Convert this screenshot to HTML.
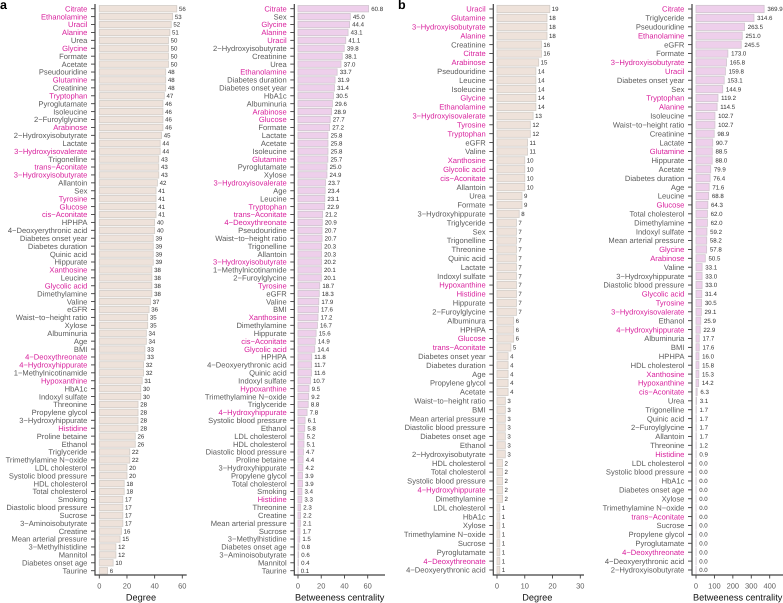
<!DOCTYPE html>
<html lang="en">
<head>
<meta charset="utf-8">
<title>Network centrality of metabolites and clinical variables</title>
<style>
html,body{margin:0;padding:0;background:#fff;width:783px;height:603px;overflow:hidden}
svg{display:block;font-family:"Liberation Sans",Arial,sans-serif;text-rendering:geometricPrecision}
</style>
</head>
<body>
<svg id="chart" width="783" height="603" viewBox="0 0 783 603" xmlns="http://www.w3.org/2000/svg">
  <text x="0" y="9" font-size="12.5" font-weight="bold" fill="#000">a</text>
  <text x="398" y="9" font-size="12.5" font-weight="bold" fill="#000">b</text>
</svg>
<script>
const highlighted = ["Citrate","Ethanolamine","Uracil","Alanine","Glycine","Glutamine","Tryptophan","Arabinose","3−Hydroxyisovalerate","trans−Aconitate","3−Hydroxyisobutyrate","Tyrosine","Glucose","cis−Aconitate","Xanthosine","Glycolic acid","4−Deoxythreonate","4−Hydroxyhippurate","Hypoxanthine","Histidine"];

const aDegreeNames = ["Citrate","Ethanolamine","Uracil","Alanine","Urea","Glycine","Formate","Acetate","Pseudouridine","Glutamine","Creatinine","Tryptophan","Pyroglutamate","Isoleucine","2−Furoylglycine","Arabinose","2−Hydroxyisobutyrate","Lactate","3−Hydroxyisovalerate","Trigonelline","trans−Aconitate","3−Hydroxyisobutyrate","Allantoin","Sex","Tyrosine","Glucose","cis−Aconitate","HPHPA","4−Deoxyerythronic acid","Diabetes onset year","Diabetes duration","Quinic acid","Hippurate","Xanthosine","Leucine","Glycolic acid","Dimethylamine","Valine","eGFR","Waist−to−height ratio","Xylose","Albuminuria","Age","BMI","4−Deoxythreonate","4−Hydroxyhippurate","1−Methylnicotinamide","Hypoxanthine","HbA1c","Indoxyl sulfate","Threonine","Propylene glycol","3−Hydroxyhippurate","Histidine","Proline betaine","Ethanol","Triglyceride","Trimethylamine N−oxide","LDL cholesterol","Systolic blood pressure","HDL cholesterol","Total cholesterol","Smoking","Diastolic blood pressure","Sucrose","3−Aminoisobutyrate","Creatine","Mean arterial pressure","3−Methylhistidine","Mannitol","Diabetes onset age","Taurine"];
const aDegreeValues = [56,53,52,51,50,50,50,50,48,48,48,47,46,46,46,46,45,44,44,43,43,43,42,41,41,41,41,40,40,39,39,39,39,38,38,38,38,37,36,35,35,34,34,33,33,32,32,31,30,30,28,28,28,28,26,26,22,22,20,20,18,18,17,17,17,17,16,15,12,12,10,6];
const aDegreeTicks = [0,20,40,60];

const aBetweenNames = ["Citrate","Sex","Glycine","Alanine","Uracil","2−Hydroxyisobutyrate","Creatinine","Urea","Ethanolamine","Diabetes duration","Diabetes onset year","HbA1c","Albuminuria","Arabinose","Glucose","Formate","Lactate","Acetate","Isoleucine","Glutamine","Pyroglutamate","Xylose","3−Hydroxyisovalerate","Age","Leucine","Tryptophan","trans−Aconitate","4−Deoxythreonate","Pseudouridine","Waist−to−height ratio","Trigonelline","Allantoin","3−Hydroxyisobutyrate","1−Methylnicotinamide","2−Furoylglycine","Tyrosine","eGFR","Valine","BMI","Xanthosine","Dimethylamine","Hippurate","cis−Aconitate","Glycolic acid","HPHPA","4−Deoxyerythronic acid","Quinic acid","Indoxyl sulfate","Hypoxanthine","Trimethylamine N−oxide","Triglyceride","4−Hydroxyhippurate","Systolic blood pressure","Ethanol","LDL cholesterol","HDL cholesterol","Diastolic blood pressure","Proline betaine","3−Hydroxyhippurate","Propylene glycol","Total cholesterol","Smoking","Histidine","Threonine","Creatine","Mean arterial pressure","Sucrose","3−Methylhistidine","Diabetes onset age","3−Aminoisobutyrate","Mannitol","Taurine"];
const aBetweenValues = [60.8,45.0,44.4,43.1,41.1,39.8,38.1,37.0,33.7,31.9,31.4,30.5,29.6,28.9,27.7,27.2,25.8,25.8,25.8,25.7,25.0,24.9,23.7,23.4,23.1,22.9,21.2,20.9,20.7,20.7,20.3,20.3,20.2,20.1,20.1,18.7,18.3,17.9,17.6,17.2,16.7,15.6,14.9,14.4,11.8,11.7,11.6,10.7,9.5,9.2,8.8,7.8,6.1,5.8,5.2,5.1,4.7,4.4,4.2,3.9,3.9,3.4,3.3,2.3,2.2,2.1,1.7,1.5,0.8,0.6,0.4,0.1];
const aBetweenTicks = [0,20,40,60];

const bDegreeNames = ["Uracil","Glutamine","3−Hydroxyisobutyrate","Alanine","Creatinine","Citrate","Arabinose","Pseudouridine","Leucine","Isoleucine","Glycine","Ethanolamine","3−Hydroxyisovalerate","Tyrosine","Tryptophan","eGFR","Valine","Xanthosine","Glycolic acid","cis−Aconitate","Allantoin","Urea","Formate","3−Hydroxyhippurate","Triglyceride","Sex","Trigonelline","Threonine","Quinic acid","Lactate","Indoxyl sulfate","Hypoxanthine","Histidine","Hippurate","2−Furoylglycine","Albuminura","HPHPA","Glucose","trans−Aconitate","Diabetes onset year","Diabetes duration","Age","Propylene glycol","Acetate","Waist−to−height ratio","BMI","Mean arterial pressure","Diastolic blood pressure","Diabetes onset age","Ethanol","2−Hydroxyisobutyrate","HDL cholesterol","Total cholesterol","Systolic blood pressure","4−Hydroxyhippurate","Dimethylamine","LDL cholesterol","HbA1c","Xylose","Trimethylamine N−oxide","Sucrose","Pyroglutamate","4−Deoxythreonate","4−Deoxyerythronic acid"];
const bDegreeValues = [19,18,18,18,16,16,15,14,14,14,14,14,13,12,12,11,11,10,10,10,10,9,9,8,7,7,7,7,7,7,7,7,7,7,7,6,6,6,5,4,4,4,4,4,3,3,3,3,3,3,3,2,2,2,2,2,1,1,1,1,1,1,1,1];
const bDegreeTicks = [0,10,20,30];

const bBetweenNames = ["Citrate","Triglyceride","Pseudouridine","Ethanolamine","eGFR","Formate","3−Hydroxyisobutyrate","Uracil","Diabetes onset year","Sex","Tryptophan","Alanine","Isoleucine","Waist−to−height ratio","Creatinine","Lactate","Glutamine","Hippurate","Acetate","Diabetes duration","Age","Leucine","Glucose","Total cholesterol","Dimethylamine","Indoxyl sulfate","Mean arterial pressure","Glycine","Arabinose","Valine","3−Hydroxyhippurate","Diastolic blood pressure","Glycolic acid","Tyrosine","3−Hydroxyisovalerate","Ethanol","4−Hydroxyhippurate","Albuminuria","BMI","HPHPA","HDL cholesterol","Xanthosine","Hypoxanthine","cis−Aconitate","Urea","Trigonelline","Quinic acid","2−Furoylglycine","Allantoin","Threonine","Histidine","LDL cholesterol","Systolic blood pressure","HbA1c","Diabetes onset age","Xylose","Trimethylamine N−oxide","trans−Aconitate","Sucrose","Propylene glycol","Pyroglutamate","4−Deoxythreonate","4−Deoxyerythronic acid","2−Hydroxyisobutyrate"];
const bBetweenValues = [369.9,314.6,263.5,251.0,245.5,173.0,165.8,159.8,153.1,144.9,119.2,114.5,102.7,102.7,98.9,90.7,88.5,88.0,79.9,76.4,71.6,68.8,64.3,62.0,62.0,59.2,58.2,57.8,50.5,33.1,33.0,33.0,31.4,30.5,29.1,25.9,22.9,17.7,17.6,16.0,15.8,15.3,14.2,6.3,3.1,1.7,1.7,1.7,1.7,1.2,0.9,0,0,0,0,0,0,0,0,0,0,0,0,0];
const bBetweenTicks = [0,100,200,300,400];

const SVG_NS = "http://www.w3.org/2000/svg";
const root = document.getElementById("chart");
const PINK = "#d81f9c";
const GREY = "#5c5c5c";
const AXIS = "#404040";

function linearAxis(domainMax, pxStart, pxEnd) {
  return v => pxStart + (v / domainMax) * (pxEnd - pxStart);
}
function rowAxis(count, firstY, lastY) {
  return i => firstY + i * (lastY - firstY) / (count - 1);
}
function node(tag, attrs, parent) {
  const el = document.createElementNS(SVG_NS, tag);
  for (const k in attrs) el.setAttribute(k, attrs[k]);
  parent.appendChild(el);
  return el;
}

function drawPanel(opts) {
  const xScale = linearAxis(opts.ticks[opts.ticks.length - 1], opts.zeroPx, opts.lastTickPx);
  const yScale = rowAxis(opts.names.length, opts.firstY, opts.lastY);

  const group = node("g", {}, root);
  
  

  opts.names.forEach((name, i) => {
    const y = yScale(i);
    const value = opts.values[i];

    const bar = node("rect", {
      x: opts.zeroPx,
      y: y - opts.barH / 2,
      width: Math.max(xScale(value) - opts.zeroPx, 0.1),
      height: opts.barH,
      fill: opts.fill,
      stroke: opts.stroke,
      "stroke-width": 0.8
    }, group);
    
    

    const tick = node("line", {
      x1: opts.axisX - 4, x2: opts.axisX, y1: y, y2: y,
      stroke: AXIS, "stroke-width": 0.9
    }, group);
    
    

    const label = node("text", {
      x: opts.axisX - 7.6,
      y: y + 2.7,
      "text-anchor": "end",
      "font-size": 7.6,
      fill: highlighted.includes(name) ? PINK : GREY
    }, group);
    label.textContent = name;
    
    

    const printed = node("text", {
      x: xScale(value) + opts.valueGap,
      y: y + 2.2,
      "font-size": 6.1,
      fill: "#333"
    }, group);
    printed.textContent = opts.decimals ? value.toFixed(opts.decimals) : String(value);
    
    
  });

  const yAxis = node("line", {
    x1: opts.axisX, x2: opts.axisX, y1: 4, y2: 575.6,
    stroke: AXIS, "stroke-width": 1.2
  }, group);
  
  

  const xAxis = node("line", {
    x1: opts.axisX, x2: opts.axisEnd, y1: 575, y2: 575,
    stroke: AXIS, "stroke-width": 1.2
  }, group);
  
  

  opts.ticks.forEach(t => {
    const x = xScale(t);
    const mark = node("line", {
      x1: x, x2: x, y1: 575, y2: 578.5,
      stroke: AXIS, "stroke-width": 0.9
    }, group);
    
    

    const tickText = node("text", {
      x: x, y: 588.5,
      "text-anchor": "middle",
      "font-size": 7.5,
      fill: GREY
    }, group);
    tickText.textContent = String(t);
    
    
  });

  const title = node("text", {
    x: opts.titleX, y: 600.3,
    "text-anchor": "middle",
    "font-size": 9.2,
    fill: "#111"
  }, group);
  title.textContent = opts.title;
  
  
}

const BEIGE = "#eee2da", BEIGE_LINE = "#d2cdc8";
const LILAC = "#eecfeb", LILAC_LINE = "#d0c6cf";

drawPanel({id:"a-degree", names:aDegreeNames, values:aDegreeValues, ticks:aDegreeTicks, decimals:0,
  axisX:95, zeroPx:99.3, lastTickPx:182.3, axisEnd:186.7, firstY:8.7, lastY:570.7, barH:6.4,
  fill:BEIGE, stroke:BEIGE_LINE, valueGap:2.2, title:"Degree", titleX:141});
drawPanel({id:"a-betweenness", names:aBetweenNames, values:aBetweenValues, ticks:aBetweenTicks, decimals:1,
  axisX:294.3, zeroPx:298, lastTickPx:367.7, axisEnd:385, firstY:8.7, lastY:570.7, barH:6.4,
  fill:LILAC, stroke:LILAC_LINE, valueGap:2.6, title:"Betweeness centrality", titleX:339.7});
drawPanel({id:"b-degree", names:bDegreeNames, values:bDegreeValues, ticks:bDegreeTicks, decimals:0,
  axisX:493.3, zeroPx:497, lastTickPx:580.3, axisEnd:584, firstY:9, lastY:570, barH:7.3,
  fill:BEIGE, stroke:BEIGE_LINE, valueGap:2, title:"Degree", titleX:537.3});
drawPanel({id:"b-betweenness", names:bBetweenNames, values:bBetweenValues, ticks:bBetweenTicks, decimals:1,
  axisX:692, zeroPx:696, lastTickPx:769.7, axisEnd:783, firstY:9, lastY:570, barH:7.3,
  fill:LILAC, stroke:LILAC_LINE, valueGap:3.2, title:"Betweeness centrality", titleX:737.7});
</script>
</body>
</html>
